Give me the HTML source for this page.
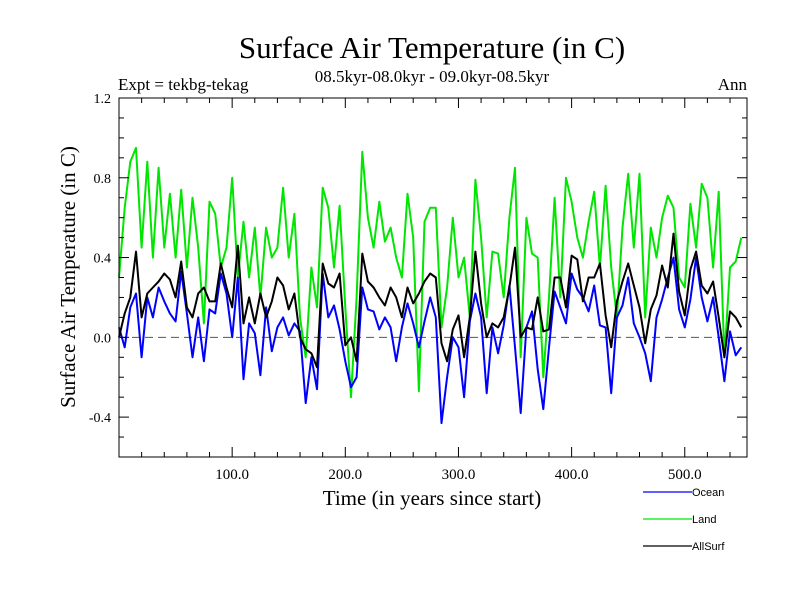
<!DOCTYPE html>
<html><head><meta charset="utf-8"><style>
body{margin:0;background:#fff;}
svg{display:block;}
</style></head><body>
<svg id="chart" width="800" height="600" xmlns="http://www.w3.org/2000/svg" font-family="Liberation Serif, serif">
<rect width="800" height="600" fill="#fff"/>
<text x="432" y="58" font-size="31" text-anchor="middle">Surface Air Temperature (in C)</text>
<text x="432" y="82" font-size="17" text-anchor="middle">08.5kyr-08.0kyr - 09.0kyr-08.5kyr</text>
<text x="118" y="90" font-size="17">Expt = tekbg-tekag</text>
<text x="747" y="90" font-size="17" text-anchor="end">Ann</text>
<text x="432" y="505" font-size="21" text-anchor="middle">Time (in years since start)</text>
<text transform="translate(75,277) rotate(-90)" font-size="21" text-anchor="middle">Surface Air Temperature (in C)</text>
<g id="plot"></g>
<g id="legend" font-family="Liberation Sans, sans-serif" font-size="11"></g>
</svg>
<script>
const years = []; for (let y = 0; y <= 550; y += 5) years.push(y);
const land = [0.30,0.65,0.88,0.95,0.45,0.88,0.40,0.85,0.45,0.72,0.40,0.74,0.35,0.70,0.45,0.07,0.68,0.62,0.35,0.45,0.80,0.30,0.58,0.30,0.55,0.20,0.55,0.40,0.45,0.75,
0.40,0.62,0.10,-0.10,0.35,0.15,0.75,0.65,0.35,0.66,0.15,-0.30,0.20,0.93,0.60,0.45,0.68,0.48,0.55,0.40,0.30,0.72,0.50,-0.27,0.58,0.65,0.65,
0.05,0.25,0.60,0.30,0.40,0.10,0.79,0.50,0.10,0.43,0.42,0.20,0.60,0.85,-0.10,0.60,0.42,0.40,-0.20,0.20,0.70,0.20,0.80,0.68,0.50,0.40,0.58,0.73,
0.35,0.76,0.35,0.10,0.55,0.82,0.45,0.82,0.10,0.55,0.40,0.60,0.71,0.65,0.30,0.25,0.67,0.45,0.77,0.70,0.35,0.73,-0.10,0.35,0.38,0.50];
const ocean = [0.05,-0.05,0.15,0.22,-0.10,0.20,0.10,0.25,0.18,0.12,0.08,0.33,0.12,-0.10,0.10,-0.12,0.14,0.12,0.32,0.22,0.00,0.30,-0.21,0.07,0.02,-0.19,0.15,-0.07,0.05,0.10,
0.01,0.07,0.03,-0.33,-0.10,-0.26,0.32,0.10,0.16,0.04,-0.12,-0.25,-0.20,0.25,0.14,0.13,0.04,0.10,0.05,-0.12,0.05,0.17,0.07,-0.05,0.08,0.20,0.10,
-0.43,-0.20,0.00,-0.05,-0.30,0.08,0.22,0.10,-0.28,0.05,-0.08,0.06,0.26,-0.05,-0.38,0.05,0.13,-0.16,-0.36,-0.05,0.23,0.15,0.07,0.32,0.24,0.20,0.13,0.26,
0.06,0.05,-0.28,0.10,0.16,0.30,0.07,0.00,-0.08,-0.22,0.10,0.19,0.30,0.40,0.14,0.05,0.19,0.40,0.20,0.08,0.20,0.00,-0.22,0.03,-0.09,-0.05];
const allsurf = [0.00,0.12,0.20,0.43,0.10,0.22,0.25,0.28,0.32,0.29,0.20,0.38,0.15,0.10,0.22,0.25,0.18,0.18,0.37,0.25,0.15,0.46,0.07,0.20,0.07,0.22,0.10,0.18,0.30,0.26,
0.14,0.22,0.00,-0.06,-0.08,-0.15,0.37,0.27,0.25,0.32,-0.04,0.00,-0.12,0.42,0.28,0.25,0.20,0.16,0.25,0.20,0.10,0.25,0.17,0.22,0.28,0.32,0.30,
-0.03,-0.12,0.04,0.11,-0.10,0.10,0.43,0.17,0.00,0.07,0.05,0.10,0.25,0.45,0.00,0.05,0.04,0.20,0.03,0.04,0.30,0.30,0.15,0.41,0.39,0.18,0.30,0.30,
0.37,0.11,-0.05,0.18,0.28,0.37,0.26,0.15,-0.03,0.14,0.21,0.36,0.25,0.52,0.23,0.11,0.34,0.43,0.26,0.22,0.28,0.10,-0.10,0.13,0.10,0.05];
const yTickValues = [-0.4, 0.0, 0.4, 0.8, 1.2];
const yTickLabels = ["-0.4", "0.0", "0.4", "0.8", "1.2"];
const xTickValues = [100, 200, 300, 400, 500];
const xTickLabels = ["100.0", "200.0", "300.0", "400.0", "500.0"];
const seriesNames = ["Ocean", "Land", "AllSurf"];

const NS = "http://www.w3.org/2000/svg";
const L = 119, R = 747, T = 98, B = 457;
const xMin = 0, xMax = 555, yMin = -0.6, yMax = 1.2;
const xs = v => L + (v - xMin) / (xMax - xMin) * (R - L);
const ys = v => B - (v - yMin) / (yMax - yMin) * (B - T);
const plot = document.getElementById('plot');
function mk(tag, attrs, parent) {
  const e = document.createElementNS(NS, tag);
  for (const k in attrs) e.setAttribute(k, attrs[k]);
  (parent || plot).appendChild(e);
  return e;
}
// zero line
const zl = mk('line', {x1: L, x2: R, y1: ys(0), y2: ys(0), stroke: '#555', 'stroke-width': 1, 'stroke-dasharray': '8,5'});


// series
function drawSeries(vals, color, name) {
  const pts = vals.map((v, i) => xs(years[i]).toFixed(1) + ',' + ys(v).toFixed(1)).join(' ');
  const p = mk('polyline', {points: pts, fill: 'none', stroke: color, 'stroke-width': 2, 'stroke-linejoin': 'round'});
  
  
}
drawSeries(land, '#00e600', 'land-series-line');
drawSeries(ocean, '#0000ff', 'ocean-series-line');
drawSeries(allsurf, '#000000', 'allsurf-series-line');
// frame
const fr = mk('rect', {x: L, y: T, width: R - L, height: B - T, fill: 'none', stroke: '#000', 'stroke-width': 1});


// y ticks
for (let k = -6; k <= 12; k++) {
  const v = k / 10, y = ys(v), major = (k % 4 === 0);
  const len = major ? 10 : 5;
  mk('line', {x1: L, x2: L + len, y1: y, y2: y, stroke: '#000'});
  mk('line', {x1: R, x2: R - len, y1: y, y2: y, stroke: '#000'});
}
yTickValues.forEach((v, i) => {
  const t = mk('text', {x: L - 8, y: ys(v) + 5, 'font-size': 14, 'text-anchor': 'end'});
  t.textContent = yTickLabels[i];
  
  
});
// x ticks
for (let v = 20; v <= 540; v += 20) {
  const x = xs(v), major = (v % 100 === 0);
  const len = major ? 10 : 5;
  mk('line', {x1: x, x2: x, y1: B, y2: B - len, stroke: '#000'});
  mk('line', {x1: x, x2: x, y1: T, y2: T + len, stroke: '#000'});
}
xTickValues.forEach((v, i) => {
  const t = mk('text', {x: xs(v), y: B + 22, 'font-size': 15, 'text-anchor': 'middle'});
  t.textContent = xTickLabels[i];
  
  
});
// legend
const lg = document.getElementById('legend');
const lgColors = ['#0000ff', '#00e600', '#000000'];
seriesNames.forEach((n, i) => {
  const y = 492 + i * 27;
  const g = mk('g', {}, lg);
  
  
  mk('line', {x1: 643, x2: 692, y1: y, y2: y, stroke: lgColors[i], 'stroke-width': 1.3}, g);
  const t = mk('text', {x: 692, y: y + 4}, g);
  t.textContent = n;
});
</script>
</body></html>
